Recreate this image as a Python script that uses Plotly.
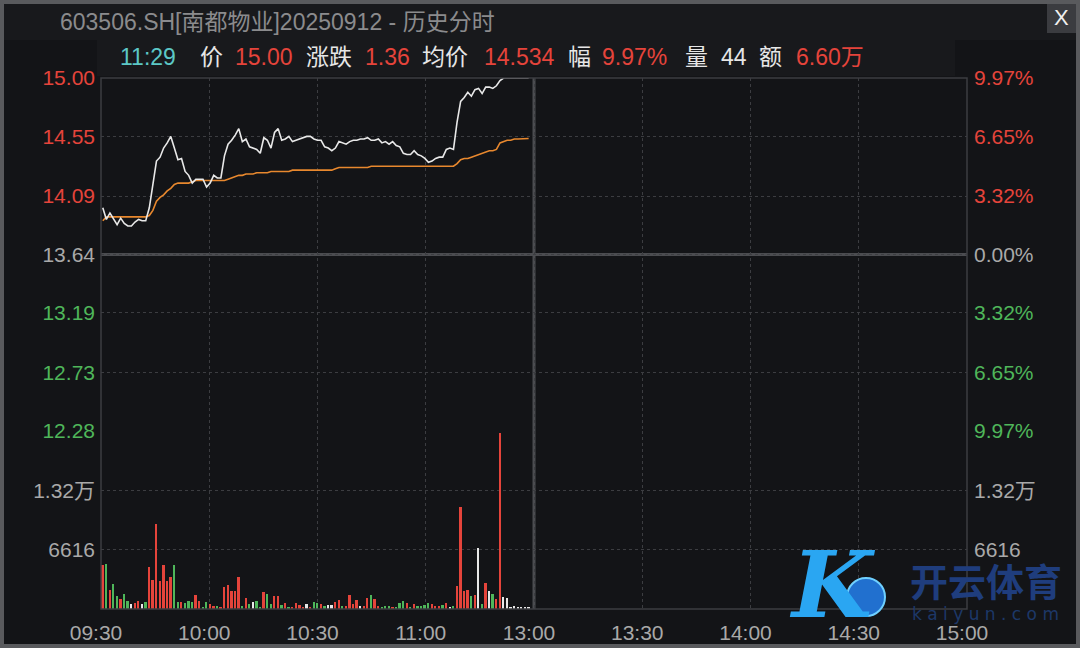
import plotly.graph_objects as go

# ---------------- data ----------------
minute_index = list(range(120))  # 09:30 .. 11:29

price = [14.00, 13.91, 13.96, 13.92, 13.87, 13.92, 13.88, 13.86, 13.86, 13.89,
         13.91, 13.90, 13.90, 14.00, 14.19, 14.36, 14.39, 14.46, 14.50, 14.55,
         14.46, 14.37, 14.38, 14.28, 14.25, 14.19, 14.22, 14.22, 14.22, 14.16,
         14.19, 14.25, 14.23, 14.23, 14.40, 14.49, 14.52, 14.56, 14.61, 14.51,
         14.53, 14.47, 14.46, 14.45, 14.42, 14.54, 14.52, 14.46, 14.58, 14.61,
         14.52, 14.53, 14.55, 14.51, 14.52, 14.53, 14.54, 14.55, 14.55, 14.53,
         14.52, 14.52, 14.47, 14.46, 14.44, 14.46, 14.51, 14.50, 14.49, 14.51,
         14.52, 14.52, 14.53, 14.53, 14.54, 14.52, 14.52, 14.53, 14.50, 14.51,
         14.49, 14.51, 14.48, 14.47, 14.42, 14.41, 14.41, 14.44, 14.41, 14.40,
         14.38, 14.35, 14.36, 14.38, 14.39, 14.39, 14.45, 14.46, 14.45, 14.66,
         14.82, 14.85, 14.89, 14.86, 14.91, 14.92, 14.88, 14.93, 14.93, 14.92,
         14.94, 14.98, 15.00, 15.00, 15.00, 15.00, 15.00, 15.00, 15.00, 15.00]

avg_price = [13.90, 13.93, 13.93, 13.93, 13.93, 13.93, 13.93, 13.93, 13.93, 13.93,
             13.93, 13.93, 13.93, 13.94, 13.98, 14.05, 14.08, 14.10, 14.13, 14.15,
             14.18, 14.19, 14.19, 14.19, 14.19, 14.20, 14.21, 14.21, 14.21, 14.21,
             14.21, 14.21, 14.21, 14.21, 14.21, 14.22, 14.23, 14.24, 14.25, 14.25,
             14.26, 14.26, 14.26, 14.27, 14.27, 14.27, 14.27, 14.28, 14.28, 14.28,
             14.28, 14.28, 14.28, 14.29, 14.29, 14.29, 14.29, 14.29, 14.29, 14.29,
             14.29, 14.29, 14.29, 14.29, 14.29, 14.30, 14.31, 14.31, 14.31, 14.31,
             14.31, 14.31, 14.31, 14.31, 14.31, 14.32, 14.32, 14.32, 14.32, 14.32,
             14.32, 14.32, 14.32, 14.32, 14.32, 14.32, 14.32, 14.32, 14.32, 14.32,
             14.32, 14.32, 14.32, 14.32, 14.32, 14.32, 14.32, 14.32, 14.32, 14.34,
             14.37, 14.38, 14.38, 14.39, 14.40, 14.41, 14.42, 14.43, 14.44, 14.44,
             14.45, 14.50, 14.51, 14.52, 14.52, 14.53, 14.53, 14.53, 14.53, 14.534]

volume = [4870, 5060, 2160, 2750, 1450, 1150, 1640, 855, 560, 670,
          855, 560, 740, 4680, 3230, 9440, 3120, 4870, 3120, 3530,
          4870, 740, 740, 670, 855, 740, 1520, 855, 260, 740,
          520, 330, 330, 260, 2450, 2640, 2040, 2040, 3530, 330,
          1260, 520, 740, 855, 260, 1860, 1640, 520, 1450, 1450,
          450, 670, 260, 150, 670, 450, 260, 520, 260, 740,
          670, 520, 330, 450, 450, 740, 1040, 330, 330, 1520,
          520, 1040, 330, 330, 1230, 1520, 1150, 330, 260, 330,
          330, 260, 260, 630, 930, 670, 260, 520, 370, 330,
          450, 630, 520, 330, 330, 450, 630, 260, 330, 2530,
          11370, 1970, 2160, 1450, 1520, 6840, 520, 2940, 2040, 1640,
          1150, 19660, 1340, 1230, 260, 330, 220, 220, 220, 220]

volume_dir = ["up", "down", "up", "down", "down", "up", "down", "down", "flat", "up",
              "up", "flat", "down", "up", "up", "up", "up", "up", "up", "up",
              "down", "down", "up", "down", "down", "down", "up", "up", "down", "down",
              "up", "up", "down", "up", "up", "up", "up", "up", "up", "down",
              "up", "down", "flat", "down", "down", "up", "down", "down", "up", "up",
              "down", "up", "down", "up", "up", "up", "up", "flat", "up", "down",
              "down", "up", "down", "flat", "flat", "up", "up", "down", "up", "up",
              "up", "up", "flat", "up", "up", "down", "up", "up", "down", "down",
              "down", "up", "down", "down", "down", "up", "down", "up", "down", "down",
              "down", "down", "up", "up", "up", "down", "up", "flat", "down", "up",
              "up", "up", "up", "down", "up", "flat", "down", "up", "flat", "down",
              "up", "up", "flat", "flat", "flat", "flat", "flat", "flat", "flat", "flat"]

time_labels = ["09:30", "10:00", "10:30", "11:00", "13:00", "13:30", "14:00", "14:30", "15:00"]
price_ticks = [15.00, 14.55, 14.09, 13.64, 13.19, 12.73, 12.28]
price_tick_labels = ["15.00", "14.55", "14.09", "13.64", "13.19", "12.73", "12.28"]
pct_tick_labels = ["9.97%", "6.65%", "3.32%", "0.00%", "3.32%", "6.65%", "9.97%"]
tick_side = ["up", "up", "up", "flat", "down", "down", "down"]
prev_close = 13.64
vol_ticks = [6616, 13232, 19848]
vol_tick_labels = ["6616", "1.32万", ""]

title_text = "603506.SH[南都物业]20250912 - 历史分时"
info_items = [("11:29", "time"), ("价", "label"), ("15.00", "up"), ("涨跌", "label"),
              ("1.36", "up"), ("均价", "label"), ("14.534", "up"), ("幅", "label"),
              ("9.97%", "up"), ("量", "label"), ("44", "label"), ("额", "label"),
              ("6.60万", "up")]

# ---------------- style ----------------
RED = "#e5443b"
GREEN = "#4fb65a"
GRAY = "#a9a9a9"
WHITE = "#e8e8e8"
CYAN = "#5cc8c6"
ORANGE = "#e8882e"
BG = "#131417"
GRID = "#3c3d41"
FONT = "Liberation Sans, Arial, Noto Sans CJK SC, sans-serif"
AX_FS = 21
HD_FS = 23
color_map = {"up": RED, "down": GREEN, "flat": WHITE}
label_color = {"up": RED, "down": GREEN, "flat": GRAY}

W, H = 1080, 648
ML, MR, MT, MB = 101, 113, 78, 39
PW, PH = W - ML - MR, H - MT - MB


def px(x):
    return (x - ML) / PW


def py(y):
    return (H - MB - y) / PH


split = (609 - 431) / PH
xr = [-0.5, 241.5]
grid_vals = [k * 30.25 - 0.5 for k in range(9)]

fig = go.Figure()
fig.add_trace(go.Bar(x=minute_index, y=volume, marker_color=[color_map[d] for d in volume_dir],
                     marker_line_width=0, width=0.5, xaxis="x2", yaxis="y2", hoverinfo="skip"))
fig.add_trace(go.Scatter(x=minute_index, y=avg_price, mode="lines",
                         line=dict(color=ORANGE, width=1.6), xaxis="x", yaxis="y"))
fig.add_trace(go.Scatter(x=minute_index, y=price, mode="lines",
                         line=dict(color=WHITE, width=1.6), xaxis="x", yaxis="y"))
fig.add_trace(go.Scatter(x=[None], y=[None], xaxis="x", yaxis="y3", showlegend=False))
fig.add_trace(go.Scatter(x=[None], y=[None], xaxis="x2", yaxis="y4", showlegend=False))

axis_common = dict(range=xr, tickvals=grid_vals, showgrid=True, gridcolor=GRID, griddash="dot",
                   gridwidth=1, zeroline=False, showline=False, ticks="", fixedrange=True,
                   automargin=False)
yaxis_common = dict(zeroline=False, ticks="", automargin=False, fixedrange=True,
                    tickfont=dict(size=AX_FS, color=GRAY))

colored_price = [f'<span style="color:{label_color[s]}">{t}</span>' for t, s in zip(price_tick_labels, tick_side)]
colored_pct = [f'<span style="color:{label_color[s]}">{t}</span>' for t, s in zip(pct_tick_labels, tick_side)]

fig.update_layout(
    width=W, height=H,
    margin=dict(l=ML, r=MR, t=MT, b=MB, autoexpand=False),
    paper_bgcolor=BG, plot_bgcolor=BG,
    showlegend=False,
    font=dict(family=FONT, size=AX_FS, color=GRAY),
    bargap=0,
    xaxis=dict(**axis_common, domain=[0, 1], anchor="y", showticklabels=False),
    xaxis2=dict(**axis_common, domain=[0, 1], anchor="y2", showticklabels=True,
                ticktext=time_labels, tickfont=dict(size=AX_FS, color=GRAY),
                ticklabelstandoff=9, ticklabelshift=-5),
    yaxis=dict(**yaxis_common, domain=[split, 1], range=[12.28, 15.00], tickvals=price_ticks,
               ticktext=colored_price, showgrid=True, gridcolor=GRID, griddash="dot",
               anchor="x", ticklabelstandoff=5),
    yaxis3=dict(**yaxis_common, overlaying="y", side="right", range=[12.28, 15.00],
                tickvals=price_ticks, ticktext=colored_pct, showgrid=False,
                anchor="x", ticklabelstandoff=6),
    yaxis2=dict(**yaxis_common, domain=[0, split], range=[0, 19848], tickvals=vol_ticks,
                ticktext=vol_tick_labels, showgrid=True, gridcolor=GRID, griddash="dot",
                anchor="x2", ticklabelstandoff=5),
    yaxis4=dict(**yaxis_common, overlaying="y2", side="right", range=[0, 19848],
                tickvals=vol_ticks, ticktext=vol_tick_labels, showgrid=False,
                anchor="x2", ticklabelstandoff=6),
)

shapes = [
    dict(type="rect", xref="paper", yref="paper", x0=px(0), x1=px(W), y0=py(40), y1=py(0),
         fillcolor="#18191c", line_width=0, layer="below"),
    dict(type="rect", xref="paper", yref="paper", x0=px(97), x1=px(955), y0=py(76), y1=py(40),
         fillcolor="#18191c", line_width=0, layer="below"),
    dict(type="line", xref="paper", yref="y", x0=0, x1=1, y0=prev_close, y1=prev_close,
         line=dict(color="#4b4c50", width=3), layer="between"),
    dict(type="line", xref="x", yref="paper", x0=grid_vals[4], x1=grid_vals[4], y0=0, y1=1,
         line=dict(color="#4b4c50", width=3), layer="between"),
    dict(type="rect", xref="paper", yref="paper", x0=0, x1=1, y0=0, y1=1,
         line=dict(color=GRID, width=1.5), layer="above"),
    dict(type="rect", xref="paper", yref="paper", x0=px(1047), x1=px(1076), y0=py(33), y1=py(4),
         fillcolor="#3b3c40", line_width=0),
    dict(type="circle", xref="paper", yref="paper", x0=px(847), x1=px(885), y0=py(616), y1=py(578),
         fillcolor="#2170cf", line=dict(color="#6fd0ff", width=2)),
    dict(type="rect", xref="paper", yref="paper", x0=px(0), x1=px(W), y0=py(H), y1=py(0),
         line=dict(color="#595a5d", width=8), fillcolor="rgba(0,0,0,0)"),
]
fig.update_layout(shapes=shapes)

annotations = [
    dict(text=title_text, x=px(58), y=py(22), xanchor="left", yanchor="middle",
         font=dict(size=HD_FS, color="#8b8b8d")),
    dict(text="X", x=px(1061.5), y=py(18), xanchor="center", yanchor="middle",
         font=dict(size=22, color="#f0f0f0")),
]
info_x = [118, 198, 233, 304, 363, 420, 482, 566, 600, 683, 719, 757, 794]
info_col = {"time": CYAN, "label": "#e6e6e6", "up": RED}
for (txt, kind), xx in zip(info_items, info_x):
    annotations.append(dict(text=txt, x=px(xx), y=py(57), xanchor="left", yanchor="middle",
                            font=dict(size=HD_FS, color=info_col[kind])))
annotations += [
    dict(text="<b><i>K</i></b>", x=px(832), y=py(585), xanchor="center", yanchor="middle",
         font=dict(size=92, color="#2aa6f2", family="DejaVu Serif, serif")),
    dict(text="<b>开云体育</b>", x=px(908), y=py(579), xanchor="left", yanchor="middle",
         font=dict(size=38, color="#1f3d7d", family="Noto Sans CJK SC")),
    dict(text="k a i y u n . c o m", x=px(910), y=py(614), xanchor="left", yanchor="middle",
         font=dict(size=17, color="#1d3868", family="DejaVu Sans")),
]
for a in annotations:
    a.update(xref="paper", yref="paper", showarrow=False)
fig.update_layout(annotations=annotations)

fig.write_html("out.html", config={"displayModeBar": False},
               post_script="document.body.style.margin='0';")
